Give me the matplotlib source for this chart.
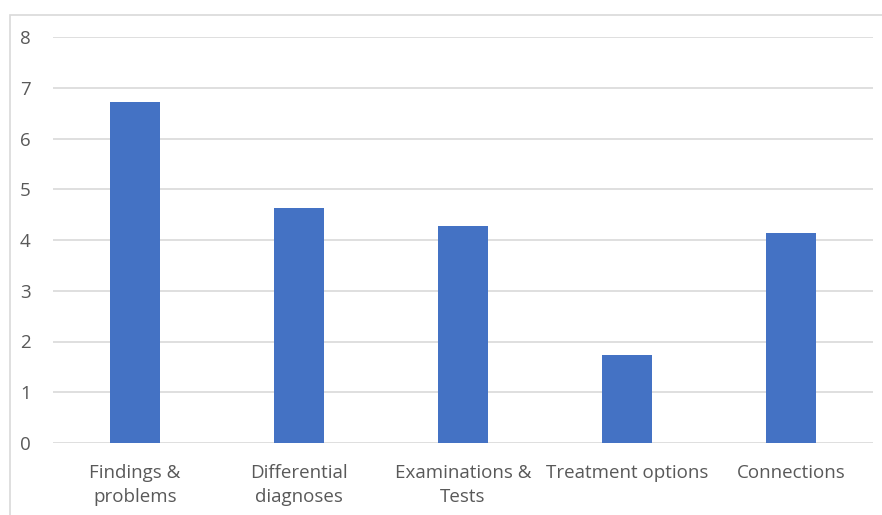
import matplotlib.pyplot as plt
from matplotlib.patches import Rectangle

categories = ['Findings &\nproblems', 'Differential\ndiagnoses', 'Examinations &\nTests',
              'Treatment options', 'Connections']
values = [6.72, 4.64, 4.28, 1.73, 4.14]
yticks = [0, 1, 2, 3, 4, 5, 6, 7, 8]

plt.rcParams['font.family'] = ['Open Sans', 'DejaVu Sans']

fig = plt.figure(figsize=(8.82, 5.15), dpi=100)
ax = fig.add_axes([53 / 882, 1 - 443 / 515, 820 / 882, 406 / 515])

# chart frame, only left and top edges are visible
fig.patches.append(Rectangle((10 / 882, -0.1), 1.2, 1 - 15 / 515 + 0.1,
                             transform=fig.transFigure, fill=False,
                             edgecolor='#d9d9d9', linewidth=1.2))

x = range(len(categories))
ax.bar(x, values, width=0.31, color='#4472C4', zorder=3)

ax.set_xlim(-0.5, len(categories) - 0.5)
ax.set_ylim(0, 8)
ax.set_yticks(yticks)
ax.set_xticks(list(x))
ax.set_xticklabels(categories, linespacing=1.45)
ax.grid(axis='y', color='#d9d9d9', linewidth=1.2, zorder=0)

for s in ax.spines.values():
    s.set_visible(False)
ax.tick_params(axis='both', length=0, labelsize=13.5, labelcolor='#595959')
ax.tick_params(axis='y', pad=16)
ax.tick_params(axis='x', pad=15)

fig.savefig('out.png', dpi=100)
